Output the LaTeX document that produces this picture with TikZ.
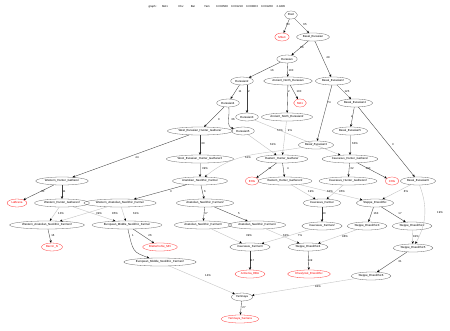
\documentclass[tikz,border=0pt]{standalone}
\usepackage{fontspec}
\setmainfont{Liberation Sans}
\usetikzlibrary{shapes.geometric,arrows.meta}
\begin{document}
\begin{tikzpicture}[x=1pt,y=-1pt,font=\fontsize{2.9}{3.5}\selectfont,
 nd/.style={ellipse,draw=black!60,line width=0.3pt,inner xsep=1.5pt,inner ysep=0.6pt,minimum height=8pt},
 lf/.style={nd,draw=red!80,text=red},
 tr/.style={draw=black!75,line width=0.35pt,-{Stealth[length=2.6pt,width=2.2pt,color=black]}},
 ad/.style={draw=black!25,line width=0.35pt,-{Stealth[length=2.6pt,width=2.2pt,color=black]}},
 lab/.style={inner sep=0pt,font=\fontsize{2.8}{3.4}\selectfont},
 hd/.style={lab,anchor=base}]
\fill[white] (0,0) rectangle (450,330);
\useasboundingbox (0,0) rectangle (450,330);
% header
\node[hd] (h0) at (153,7) {graph :};
\node[hd] (h1) at (165,7) {MA1};
\node[hd] (h2) at (181,7) {Khv};
\node[hd] (h3) at (193,7) {Bar};
\node[hd] (h4) at (207,7) {Yam};
\node[hd] (h5) at (222,7) {0.002588};
\node[hd] (h6) at (237,7) {0.001218};
\node[hd] (h7) at (252,7) {0.003803};
\node[hd] (h8) at (267,7) {0.001268};
\node[hd] (h9) at (281,7) {2.9495};
% nodes
\node[nd] (Root) at (291,15) {Root};
\node[lf] (Mbuti) at (282,37) {Mbuti};
\node[nd] (BE) at (313,37) {Basal\_Eurasian};
\node[nd] (Eur) at (287,59) {Eurasian};
\node[nd] (Eur2) at (242,81) {Eurasian2};
\node[nd] (ANE) at (288,81) {Ancient\_North\_Eurasian};
\node[nd] (BE2) at (333,81) {Basal\_Eurasian2};
\node[nd] (Eur4) at (228,103) {Eurasian4};
\node[lf] (MA1) at (300,103) {MA1};
\node[nd] (BE4) at (355,103) {Basal\_Eurasian4};
\node[nd] (Eur3) at (247,117) {Eurasian3};
\node[nd] (ANE2) at (287,117) {Ancient\_North\_Eurasian2};
\node[nd] (WEHG) at (200,131) {West\_Eurasian\_Hunter\_Gatherer};
\node[nd] (Eur5) at (243,131) {Eurasian5};
\node[nd] (BE5) at (350,131) {Basal\_Eurasian5};
\node[nd] (BE3) at (316,145) {Basal\_Eurasian3};
\node[nd] (WEHG2) at (200,159) {West\_Eurasian\_Hunter\_Gatherer2};
\node[nd] (EHGn) at (282,159) {Eastern\_Hunter\_Gatherer};
\node[nd] (CHGn) at (350,159) {Caucasus\_Hunter\_Gatherer};
\node[nd] (WHG) at (62,181) {Western\_Hunter\_Gatherer};
\node[nd] (ANF) at (200,181) {Anatolian\_Neolithic\_Farmer};
\node[lf] (EHG) at (252,181) {EHG};
\node[nd] (EHG2) at (285,181) {Eastern\_Hunter\_Gatherer2};
\node[nd] (CHG2) at (348,181) {Caucasus\_Hunter\_Gatherer2};
\node[lf] (CHG) at (392,181) {CHG};
\node[nd] (BE6) at (418,181) {Basal\_Eurasian6};
\node[lf] (LaB) at (17,203) {LaBrana};
\node[nd] (WHG2) at (62,203) {Western\_Hunter\_Gatherer2};
\node[nd] (WANF) at (120,203) {Western\_Anatolian\_Neolithic\_Farmer};
\node[nd] (ANF2) at (205,203) {Anatolian\_Neolithic\_Farmer2};
\node[nd] (CF) at (322,203) {Caucasus\_Farmer};
\node[nd] (SE) at (375,203) {Steppe\_Eneolithic};
\node[nd] (WANF2) at (47,225) {Western\_Anatolian\_Neolithic\_Farmer2};
\node[nd] (EMNF) at (127,225) {European\_Middle\_Neolithic\_Farmer};
\node[nd] (ANF3) at (203,225) {Anatolian\_Neolithic\_Farmer3};
\node[nd] (ANF4) at (257,225) {Anatolian\_Neolithic\_Farmer4};
\node[nd] (CF2) at (322,226) {Caucasus\_Farmer2};
\node[nd] (SE3) at (367,226) {Steppe\_Eneolithic3};
\node[nd] (SE2) at (412,226) {Steppe\_Eneolithic2};
\node[lf] (Bar) at (52,247) {Barcin\_N};
\node[lf] (Blat) at (160,247) {Blatterhohle\_MN};
\node[nd] (CF3) at (250,247) {Caucasus\_Farmer3};
\node[nd] (SE4) at (308,247) {Steppe\_Eneolithic4};
\node[nd] (SE5) at (413,248) {Steppe\_Eneolithic5};
\node[nd] (EMNF2) at (160,262) {European\_Middle\_Neolithic\_Farmer2};
\node[lf] (Arm) at (250,274) {Armenia\_EBA};
\node[lf] (Khv) at (309,274) {Khvalynsk\_Eneolithic};
\node[nd] (SE6) at (371,276) {Steppe\_Eneolithic6};
\node[nd] (Yam) at (242,297) {Yamnaya};
\node[lf] (YamS) at (240,319) {Yamnaya\_Samara};
% tree edges
\draw[tr] (Root) -- (Mbuti) node[lab] at (288,25) {63};
\draw[tr] (Root) -- (BE) node[lab] at (305,25) {65};
\draw[tr] (BE) -- (Eur) node[lab] at (302,48) {66};
\draw[tr] (BE) -- (BE2) node[lab] at (328,58) {49};
\draw[tr] (Eur) -- (Eur2) node[lab] at (272,71) {16};
\draw[tr] (Eur) -- (ANE) node[lab] at (291,71) {100};
\draw[tr] (Eur2) -- (Eur4) node[lab] at (240,92) {11};
\draw[tr] (Eur2.south -| Eur3) -- (Eur3) node[lab] at (249,92) {2};
\draw[tr] (ANE) -- (ANE2) node[lab] at (289,92) {2};
\draw[tr] (ANE) -- (MA1) node[lab] at (299,92) {100};
\draw[tr] (BE2) -- (BE4) node[lab] at (347,92) {125};
\draw[tr] (BE2) -- (BE3) node[lab] at (329,103) {74};
\draw[tr] (Eur4) -- (WEHG) node[lab] at (219,120) {0};
\draw[tr] (Eur4) to[out=-80,in=165] (Eur5);
\node[lab] (l36) at (233,120) {36};
\draw[tr] (BE4) -- (BE5) node[lab] at (352,117) {2};
\draw[tr] (BE4) -- (BE6) node[lab] at (393,145) {3};
\draw[tr] (WEHG) -- (WEHG2) node[lab] at (203,144) {30};
\draw[tr] (WEHG) -- (WHG) node[lab] at (137,158) {44};
\draw[tr] (EHGn) -- (EHG) node[lab] at (270,169) {31};
\draw[tr] (EHGn) -- (EHG2) node[lab] at (288,169) {4};
\draw[tr] (CHGn) -- (CHG2) node[lab] at (352,169) {32};
\draw[tr] (CHGn) -- (CHG) node[lab] at (368,169) {100};
\draw[tr] (WHG) -- (LaB) node[lab] at (43,192) {60};
\draw[tr] (WHG) -- (WHG2) node[lab] at (64,192) {11};
\draw[tr] (ANF) -- (WANF) node[lab] at (171,192) {3};
\draw[tr] (ANF) -- (ANF2) node[lab] at (205,192) {6};
\draw[tr] (ANF2) -- (ANF3) node[lab] at (206,214) {17};
\draw[tr] (ANF2) -- (ANF4) node[lab] at (239,214) {5};
\draw[tr] (CF) -- (CF2) node[lab] at (324,214) {40};
\draw[tr] (SE) -- (SE3) node[lab] at (376,214) {163};
\draw[tr] (SE) -- (SE2) node[lab] at (400,214) {17};
\draw[tr] (WANF2) -- (Bar) node[lab] at (53,236) {16};
\draw[tr] (EMNF) .. controls (133,252) .. (EMNF2) node[lab] at (133,236) {1};
\draw[tr] (EMNF) -- (Blat) node[lab] at (150,236) {26};
\draw[tr] (CF3) -- (Arm) node[lab] at (252,261) {117};
\draw[tr] (SE4) -- (Khv) node[lab] at (310,261) {149};
\draw[tr] (SE5) -- (SE6) node[lab] at (400,262) {31};
\draw[tr] (Yam) -- (YamS) node[lab] at (244,308) {27};
% admixture edges
\draw[ad] (Eur3) -- (CHGn) node[lab] at (280,131) {57\%};
\draw[ad] (ANE2) -- (EHGn) node[lab] at (290,131) {9\%};
\draw[ad] (Eur5) -- (EHGn) node[lab] at (273,145) {61\%};
\draw[ad] (BE5) -- (CHGn) node[lab] at (355,144) {63\%};
\draw[ad] (BE3) to[out=190,in=40] (ANF);
\node[lab] (l61b) at (248,158) {61\%};
\draw[ad] (WEHG2) -- (ANF) node[lab] at (205,169) {39\%};
\draw[ad] (EHG2) -- (CF) node[lab] at (311,192) {19\%};
\draw[ad] (EHG2) -- (SE) node[lab] at (330,192) {62\%};
\draw[ad] (CHG2) -- (CF) node[lab] at (342,192) {95\%};
\draw[ad] (BE6) -- (SE) node[lab] at (406,192) {8\%};
\draw[ad] (WHG2) -- (WANF2) node[lab] at (61,214) {13\%};
\draw[ad] (WHG2) -- (EMNF) node[lab] at (99,214) {39\%};
\draw[ad] (WANF) -- (WANF2) node[lab] at (115,214) {85\%};
\draw[ad] (WANF) -- (EMNF) node[lab] at (136,214) {61\%};
\draw[ad] (BE6) to[bend left=25] (SE5);
\node[lab] (l19b) at (440,213) {19\%};
\draw[ad] (ANF3) -- (CF3) node[lab] at (249,236) {39\%};
\draw[ad] (CF2) -- (CF3) node[lab] at (286,236) {62\%};
\draw[ad] (ANF4) -- (SE4) node[lab] at (300,236) {7\%};
\draw[ad] (SE3) -- (SE4) node[lab] at (345,237) {98\%};
\draw[ad] (SE2) -- (SE5) node[lab] at (416,237) {82\%};
\draw[ad] (EMNF2) -- (Yam) node[lab] at (208,276) {14\%};
\draw[ad] (SE6) -- (Yam) node[lab] at (318,287) {84\%};
\end{tikzpicture}
\end{document}
